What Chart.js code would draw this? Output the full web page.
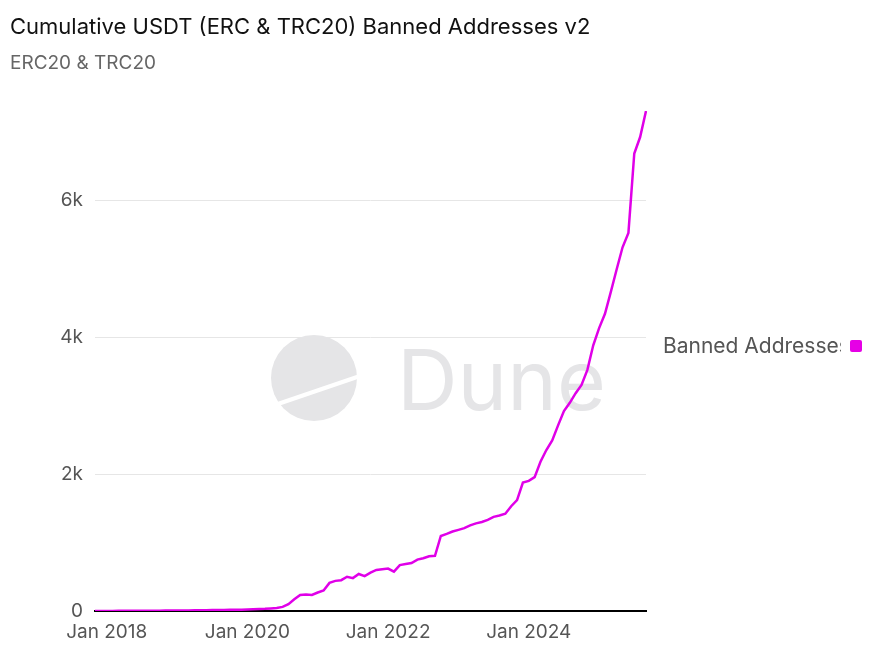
<!DOCTYPE html>
<html>
<head>
<meta charset="utf-8">
<script src="https://cdn.jsdelivr.net/npm/chart.js@4.4.1/dist/chart.umd.min.js"></script>
<style>
  body { margin: 0; background: #fff; font-family: Inter, "Noto Sans", sans-serif; }
  .wrap { position: relative; width: 882px; height: 649px; }
  .title { position: absolute; left: 10px; top: 13px; font-size: 22px; color: #111; white-space: nowrap; }
  .subtitle { position: absolute; left: 10px; top: 51px; font-size: 19px; color: #666; white-space: nowrap; }
  canvas { position: absolute; left: 0; top: 0; }
  .legend { position: absolute; left: 663px; top: 333px; width: 178px; overflow: hidden; white-space: nowrap; font-size: 21px; color: #555; }
  .legend-box { position: absolute; left: 850px; top: 340px; width: 12px; height: 12px; border-radius: 2px; background: #e600e6; }
</style>
</head>
<body>
<div class="wrap">
  <canvas id="myChart" width="882" height="649"></canvas>
  <div class="title">Cumulative USDT (ERC &amp; TRC20) Banned Addresses v2</div>
  <div class="subtitle">ERC20 &amp; TRC20</div>
  <div class="legend">Banned Addresses</div>
  <div class="legend-box"></div>
</div>
<script>
// months Nov 2017 -> Sep 2025
const monthNames = ['Jan', 'Feb', 'Mar', 'Apr', 'May', 'Jun', 'Jul', 'Aug', 'Sep', 'Oct', 'Nov', 'Dec'];
const startYear = 2017, startMonth = 10, monthCount = 95;
const months = [];
for (let i = 0; i < monthCount; i++) {
    const m = startMonth + i;
    months.push(monthNames[m % 12] + ' ' + (startYear + Math.floor(m / 12)));
}

const bannedAddresses = [
    0, 0,
    1, 1, 2, 2, 3, 3, 4, 4, 5, 5, 6, 6,
    7, 8, 9, 10, 11, 12, 13, 14, 15, 17, 19, 20,
    22, 25, 28, 32, 38, 45, 60, 100, 170, 235, 240, 235,
    270, 300, 410, 440, 450, 500, 480, 540, 510, 560, 600, 610,
    620, 575, 670, 685, 700, 750, 770, 800, 805, 1095, 1125, 1160,
    1185, 1210, 1250, 1280, 1300, 1330, 1375, 1395, 1420, 1530, 1620, 1875,
    1900, 1955, 2180, 2350, 2490, 2710, 2920, 3040, 3180, 3300, 3520, 3880,
    4130, 4340, 4660, 4990, 5310, 5520, 6680, 6920, 7300
];

const xTickLabels = ['Jan 2018', 'Jan 2020', 'Jan 2022', 'Jan 2024'];
const yTicks = [0, 2000, 4000, 6000];

// dune watermark behind the line
const watermark = {
    id: 'watermark',
    beforeDatasetsDraw(chart) {
        const c = chart.ctx;
        c.save();
        c.fillStyle = '#e5e5e7';
        c.beginPath();
        c.arc(314, 378, 43, 0, Math.PI * 2);
        c.fill();
        c.strokeStyle = '#fff';
        c.lineWidth = 4;
        c.beginPath();
        c.moveTo(272, 406);
        c.lineTo(360, 376);
        c.stroke();
        c.font = '84px Inter';
        c.textBaseline = 'alphabetic';
        c.fillText('Dune', 397, 410);
        c.restore();
    }
};

const ctx = document.getElementById('myChart').getContext('2d');
const chart = new Chart(ctx, {
    type: 'line',
    data: {
        labels: months,
        datasets: [{
            label: 'Banned Addresses',
            data: bannedAddresses,
            borderColor: '#e000e8',
            borderWidth: 2.5,
            pointRadius: 0,
            tension: 0
        }]
    },
    options: {
        responsive: false,
        animation: false,
        layout: {
            padding: { top: 111, right: 236, bottom: 0, left: 0 }
        },
        plugins: {
            legend: { display: false },
            tooltip: { enabled: false }
        },
        scales: {
            x: {
                offset: false,
                afterFit: scale => { scale.height = 38; },
                grid: { display: false, drawTicks: false },
                border: { color: '#000', width: 2 },
                ticks: {
                    autoSkip: false,
                    maxRotation: 0,
                    padding: 10,
                    color: '#555',
                    font: { family: 'Inter', size: 19 },
                    callback: function(val) {
                        const l = this.getLabelForValue(val);
                        return xTickLabels.includes(l) ? l : '';
                    }
                }
            },
            y: {
                min: 0,
                max: 7300,
                afterBuildTicks: scale => {
                    scale.ticks = yTicks.map(v => ({ value: v }));
                },
                afterFit: scale => { scale.width = 95; },
                grid: { color: '#e6e6e6', drawTicks: false },
                border: { display: false },
                ticks: {
                    padding: 12,
                    color: '#555',
                    font: { family: 'Inter', size: 19 },
                    callback: v => v === 0 ? '0' : (v / 1000) + 'k'
                }
            }
        }
    },
    plugins: [watermark]
});
</script>
</body>
</html>
